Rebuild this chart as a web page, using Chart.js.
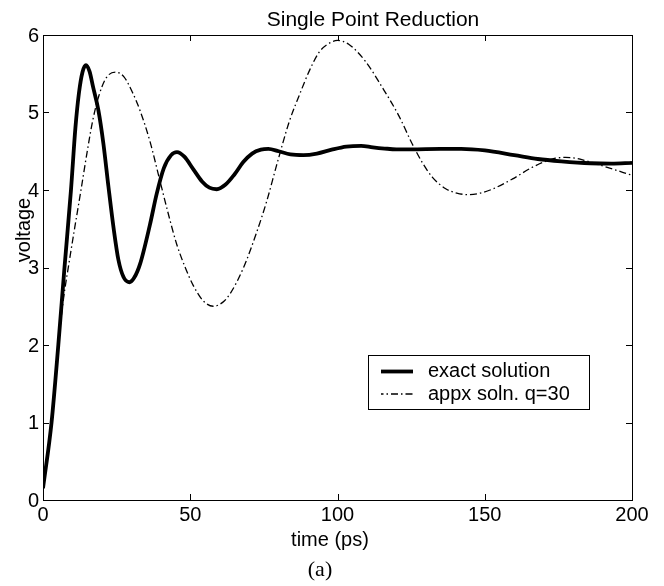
<!DOCTYPE html>
<html>
<head>
<meta charset="utf-8">
<script src="https://cdn.jsdelivr.net/npm/chart.js@4.4.1/dist/chart.umd.min.js"></script>
<style>
  html, body { margin: 0; padding: 0; background: #fff; }
  #wrap { width: 664px; height: 586px; position: relative; }
</style>
</head>
<body>
<div id="wrap"><canvas id="c"></canvas></div>
<script>
// ---- data ----
const titleText = "Single Point Reduction";
const xLabel = "time (ps)";
const yLabel = "voltage";
const caption = "(a)";
const xTicks = [0, 50, 100, 150, 200];
const yTicks = [0, 1, 2, 3, 4, 5, 6];
const seriesNames = ["exact solution", "appx soln. q=30"];

const timeExact = [0, 2.9, 5.2, 7.3, 9.5, 11.0, 12.2, 13.4, 14.6, 15.8, 17.0, 18.8, 20.5, 22.2, 24.0, 25.6, 27.3, 29.3, 31.0, 33.0, 36.3, 38.6, 41.0, 43.5, 45.5, 48.0, 51.0, 54.0, 56.5, 59.0, 62.0, 65.0, 68.0, 71.0, 74.0, 76.5, 80.0, 84.0, 88.4, 93.0, 98.0, 103.0, 108.0, 112.0, 116.0, 120.0, 125.0, 135.0, 142.0, 150.0, 160.0, 168.0, 176.0, 186.0, 193.0, 200.0];
const voltExact = [0.15, 1.0, 2.0, 3.0, 4.0, 4.8, 5.25, 5.52, 5.61, 5.53, 5.33, 5.03, 4.6, 4.05, 3.5, 3.1, 2.88, 2.81, 2.87, 3.05, 3.55, 3.95, 4.28, 4.45, 4.49, 4.43, 4.27, 4.11, 4.03, 4.01, 4.07, 4.2, 4.36, 4.47, 4.52, 4.53, 4.5, 4.46, 4.45, 4.47, 4.52, 4.56, 4.57, 4.55, 4.535, 4.525, 4.525, 4.53, 4.53, 4.51, 4.45, 4.4, 4.37, 4.345, 4.34, 4.35];

const timeAppx = [0, 2.9, 5.2, 6.9, 8.8, 10.8, 12.9, 14.9, 16.9, 19.0, 21.5, 24.8, 27.5, 30.5, 33.0, 36.3, 39.7, 42.5, 45.4, 48.3, 51.0, 54.4, 57.8, 61.0, 63.5, 68.0, 72.6, 76.0, 79.4, 83.6, 87.0, 90.7, 94.0, 98.0, 100.0, 103.8, 109.5, 115.1, 120.8, 125.3, 128.7, 132.1, 136.6, 140.5, 144.5, 148.5, 152.5, 159.3, 166.0, 170.6, 174.0, 177.4, 181.0, 184.1, 190.9, 200.0];
const voltAppx = [0.15, 1.0, 2.0, 2.58, 3.05, 3.52, 4.0, 4.47, 4.9, 5.22, 5.45, 5.52, 5.46, 5.25, 5.02, 4.63, 4.12, 3.7, 3.3, 3.0, 2.77, 2.57, 2.5, 2.55, 2.66, 2.99, 3.46, 3.86, 4.33, 4.88, 5.22, 5.56, 5.79, 5.91, 5.93, 5.88, 5.66, 5.33, 4.96, 4.6, 4.36, 4.17, 4.02, 3.96, 3.94, 3.96, 4.01, 4.14, 4.29, 4.37, 4.41, 4.42, 4.41, 4.38, 4.3, 4.19];

const toPoints = (xs, ys) => xs.map((x, i) => ({ x: x, y: ys[i] }));

const SANS = '"Liberation Sans", Arial, Helvetica, sans-serif';
const SERIF = '"Liberation Serif", "Times New Roman", serif';

const dashPattern = [7, 3, 1.5, 3];

const framePlugin = {
  id: 'frameAndText',
  afterDatasetsDraw(chart) {
    const ctx = chart.ctx;
    const a = chart.chartArea;
    const xs = chart.scales.x, ys = chart.scales.y;
    ctx.save();
    // frame
    ctx.strokeStyle = '#000';
    ctx.lineWidth = 1;
    ctx.setLineDash([]);
    ctx.strokeRect(Math.round(a.left) + 0.5, Math.round(a.top) + 0.5, Math.round(a.right - a.left), Math.round(a.bottom - a.top));
    // inward ticks
    const tl = 6;
    ctx.beginPath();
    xTicks.forEach(v => {
      const p = Math.round(xs.getPixelForValue(v)) + 0.5;
      ctx.moveTo(p, a.bottom); ctx.lineTo(p, a.bottom - tl);
      ctx.moveTo(p, a.top); ctx.lineTo(p, a.top + tl);
    });
    yTicks.forEach(v => {
      const p = Math.round(ys.getPixelForValue(v)) + 0.5;
      ctx.moveTo(a.left, p); ctx.lineTo(a.left + tl, p);
      ctx.moveTo(a.right, p); ctx.lineTo(a.right - tl, p);
    });
    ctx.stroke();

    // texts
    ctx.fillStyle = '#000';
    ctx.textAlign = 'center';
    ctx.textBaseline = 'alphabetic';
    ctx.font = '21px ' + SANS;
    ctx.fillText(titleText, 373, 26);
    ctx.font = '20px ' + SANS;
    ctx.fillText(xLabel, 330, 546);
    ctx.font = '22px ' + SERIF;
    ctx.fillText(caption, 320, 576);
    ctx.save();
    ctx.translate(30, 230);
    ctx.rotate(-Math.PI / 2);
    ctx.font = '20px ' + SANS;
    ctx.fillText(yLabel, 0, 0);
    ctx.restore();

    // legend
    const lx = 368.5, ly = 355.5, lw = 221, lh = 54;
    ctx.fillStyle = '#fff';
    ctx.fillRect(lx, ly, lw, lh);
    ctx.strokeStyle = '#000';
    ctx.lineWidth = 1;
    ctx.strokeRect(lx, ly, lw, lh);
    const rows = [371.5, 394];
    chart.data.datasets.forEach((ds, i) => {
      ctx.beginPath();
      ctx.lineWidth = ds.borderWidth;
      ctx.setLineDash(ds.borderDash || []);
      ctx.lineDashOffset = i === 1 ? 4.5 : 0;
      ctx.moveTo(381, rows[i]);
      ctx.lineTo(413, rows[i]);
      ctx.stroke();
      ctx.setLineDash([]);
      ctx.font = '20px ' + SANS;
      ctx.textAlign = 'left';
      ctx.textBaseline = 'middle';
      ctx.fillStyle = '#000';
      ctx.fillText(ds.label, 428, rows[i]);
    });
    ctx.restore();
  }
};

new Chart(document.getElementById('c'), {
  type: 'scatter',
  plugins: [framePlugin],
  data: {
    datasets: [
      {
        label: seriesNames[0],
        data: toPoints(timeExact, voltExact),
        showLine: true,
        borderColor: '#000',
        borderWidth: 3.8,
        pointRadius: 0,
        cubicInterpolationMode: 'monotone',
        fill: false
      },
      {
        label: seriesNames[1],
        data: toPoints(timeAppx, voltAppx),
        showLine: true,
        borderColor: '#000',
        borderWidth: 1.3,
        borderDash: dashPattern,
        pointRadius: 0,
        cubicInterpolationMode: 'monotone',
        fill: false
      }
    ]
  },
  options: {
    responsive: true,
    maintainAspectRatio: false,
    animation: false,
    layout: { padding: { top: 35, right: 32, left: 0, bottom: 0 } },
    plugins: { legend: { display: false }, tooltip: { enabled: false }, title: { display: false } },
    scales: {
      x: {
        type: 'linear', min: 0, max: 200,
        afterBuildTicks: s => { s.ticks = xTicks.map(v => ({ value: v })); },
        afterFit: s => { s.height = 86; },
        grid: { display: false, drawTicks: false },
        border: { display: false },
        ticks: { color: '#000', font: { family: SANS, size: 20 }, padding: 3, maxRotation: 0, autoSkip: false }
      },
      y: {
        type: 'linear', min: 0, max: 6,
        afterBuildTicks: s => { s.ticks = yTicks.map(v => ({ value: v })); },
        afterFit: s => { s.width = 43; },
        grid: { display: false, drawTicks: false },
        border: { display: false },
        ticks: { color: '#000', font: { family: SANS, size: 20 }, padding: 4, labelOffset: 1, autoSkip: false }
      }
    }
  }
});
</script>
</body>
</html>
